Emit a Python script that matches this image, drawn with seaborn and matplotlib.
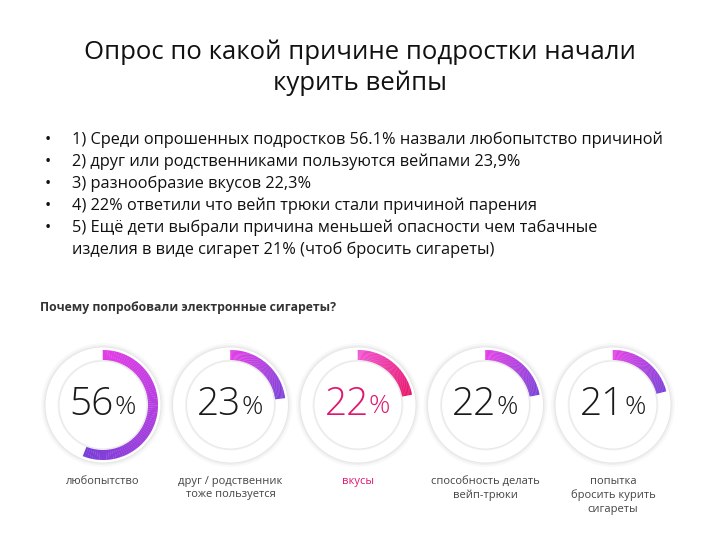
import matplotlib
matplotlib.use("Agg")
import matplotlib.pyplot as plt
import matplotlib.colors as mcolors
from matplotlib.patches import Circle, Wedge
import seaborn as sns

# slide text
title = "Опрос по какой причине подростки начали\nкурить вейпы"
bullets = [
    "1) Среди опрошенных подростков 56.1% назвали любопытство причиной",
    "2) друг или родственниками пользуются вейпами 23,9%",
    "3) разнообразие вкусов 22,3%",
    "4) 22% ответили что вейп трюки стали причиной парения",
    "5) Ещё дети выбрали причина меньшей опасности чем табачные\nизделия в виде сигарет 21% (чтоб бросить сигареты)",
]
subtitle = "Почему попробовали электронные сигареты?"

# donut data
reasons = ["любопытство", "друг / родственник\nтоже пользуется", "вкусы",
           "способность делать\nвейп-трюки", "попытка\nбросить курить\nсигареты"]
values = [56, 23, 22, 22, 21]
highlight = [False, False, True, False, False]

sns.set_theme(style="white")
plt.rcParams["font.family"] = ["Open Sans", "DejaVu Sans"]

fig = plt.figure(figsize=(7.2, 5.4), dpi=100)
W, H = 720, 540

fig.text(0.5, 1 - 68 / H, title, ha="center", va="center", fontsize=18.5,
         color="#111111", linespacing=1.3)

y = 140
for b in bullets:
    fig.text(48 / W, 1 - y / H, "•", ha="center", va="center", fontsize=12, color="#111111")
    for line in b.split("\n"):
        fig.text(72 / W, 1 - y / H, line, ha="left", va="center", fontsize=11.8,
                 color="#111111")
        y += 22

fig.text(40 / W, 1 - 308 / H, subtitle, ha="left", va="center", fontsize=8.8,
         fontweight="bold", color="#333333")

purple_grad = ["#e33ee6", "#7a3ed8"]
pink_grad = ["#f04fd0", "#e8136a"]

cy = 405
size = 150
for i, (val, lab, hl) in enumerate(zip(values, reasons, highlight)):
    cx = 103 + i * 127.5
    ax = fig.add_axes([(cx - size / 2) / W, 1 - (cy + size / 2) / H, size / W, size / H])
    ax.set_xlim(-size / 2, size / 2)
    ax.set_ylim(-size / 2, size / 2)
    ax.set_aspect("equal")
    ax.axis("off")

    # soft shadow + white ring
    for r, a in [(62, 0.025), (60, 0.035), (58.5, 0.04)]:
        ax.add_patch(Circle((0, 0), r, color="#000000", alpha=a, lw=0))
    ax.add_patch(Circle((0, 0), 57.5, color="white", lw=0))
    for r, a in [(45.5, 0.05), (44.5, 0.04)]:
        ax.add_patch(Circle((0, 0), r, color="#000000", alpha=a, lw=0))
    ax.add_patch(Circle((0, 0), 43.5, color="white", lw=0))

    # gradient arc, clockwise from 12 o'clock
    c0, c1 = pink_grad if hl else purple_grad
    cmap = mcolors.LinearSegmentedColormap.from_list("g", [c0, c1])
    span = val / 100 * 360
    n = 80
    for k in range(n):
        a0 = 90 - span * (k + 1) / n
        a1 = 90 - span * k / n + 0.3
        ax.add_patch(Wedge((0, 0), 55, a0, a1, width=10, color=cmap(k / (n - 1)), lw=0))

    num_color = "#e0176f" if hl else "#1a1a1a"
    ax.text(11, 0, str(val), ha="right", va="center", fontsize=28, color=num_color,
            fontweight="light")
    ax.text(11, -2, "%", ha="left", va="center", fontsize=19, color=num_color,
            fontweight="light")

    fig.text(cx / W, 1 - 476 / H, lab, ha="center", va="top", fontsize=8,
             color="#e0176f" if hl else "#444444", linespacing=1.3)

fig.savefig("out.png", dpi=100, facecolor="white")
